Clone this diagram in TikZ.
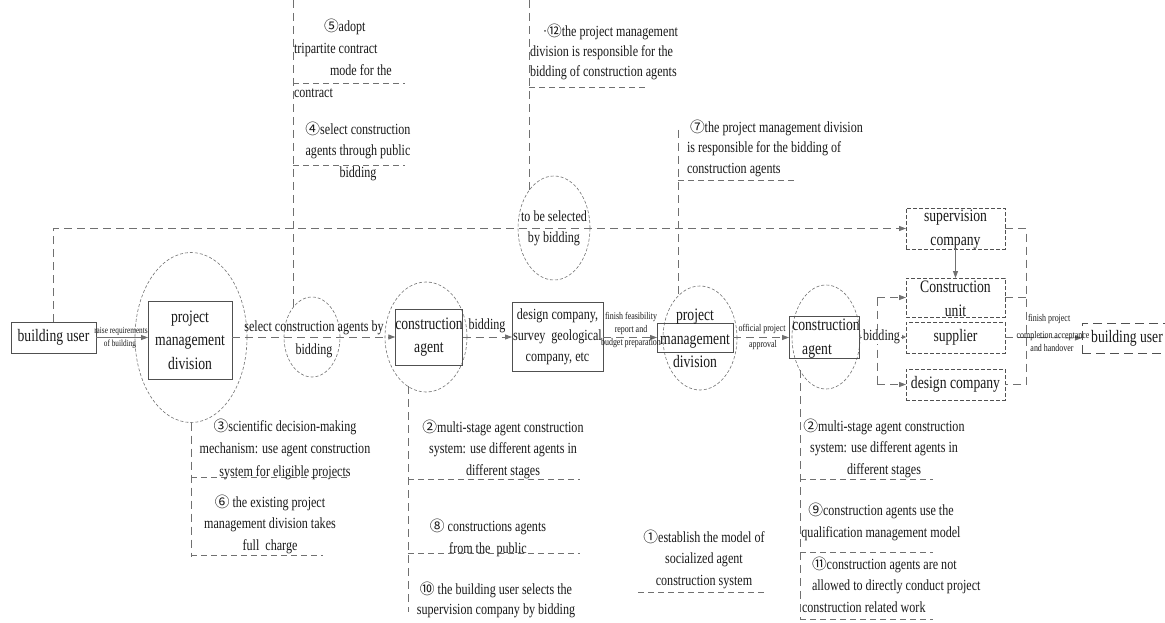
\documentclass[tikz,border=0pt]{standalone}
\usepackage{fontspec}
\setmainfont{Liberation Serif}[FakeStretch=0.78]
\newfontfamily\cnf{Noto Sans CJK SC}
\usetikzlibrary{shapes.geometric,arrows.meta}
\definecolor{linegray}{HTML}{707070}
\definecolor{boxgray}{HTML}{505050}
\definecolor{txt}{HTML}{1A1A1A}
\newcommand\cn[1]{\scalebox{0.95}{\cnf #1}}
\newcommand\fbig{\fontsize{17.5}{23.5}\selectfont}
\newcommand\fmid{\fontsize{15.5}{21.5}\selectfont}
\newcommand\fsml{\fontsize{10.2}{13}\selectfont}
\newcommand\fxs{\fontsize{9.3}{12}\selectfont}
\begin{document}
\begin{tikzpicture}[x=1pt,y=-1pt,
  every node/.style={text=txt, inner sep=0pt, outer sep=0pt},
  sbox/.style={draw=boxgray, line width=0.9pt, rectangle},
  dbox/.style={draw=boxgray, line width=0.8pt, dash pattern=on 4pt off 2pt, rectangle},
  ell/.style={ellipse, draw=linegray, line width=0.6pt, dash pattern=on 3pt off 2pt},
  dl/.style={draw=linegray, line width=0.9pt, dash pattern=on 8pt off 5pt},
  ul/.style={draw=linegray, line width=0.8pt, dash pattern=on 6pt off 4pt},
  sl/.style={draw=linegray, line width=0.9pt},
  tip/.style={-{Triangle[length=7pt,width=5pt]}},
  stip/.style={-{Triangle[length=4pt,width=4pt]}},
  big/.style={font=\fbig, align=center},
  mid/.style={font=\fmid, align=center},
  sml/.style={font=\fsml, align=center},
]
\useasboundingbox (0,0) rectangle (1165,623);
\fill[white] (0,0) rectangle (1165,623);

% ---------- main chain ----------
\node[sbox, minimum width=85, minimum height=31, font=\fbig] (bu1) at (53.5,337.5) {building user};
\node[ell, minimum width=112, minimum height=170] (pmd1e) at (191,337.5) {};
\node[sbox, minimum width=84, minimum height=78, big] (pmd1) at (190,340) {project\\management\\division};
\node[ell, minimum width=56, minimum height=80] (sel) at (312,337) {};
\node[ell, minimum width=82, minimum height=110] (ca1e) at (426,337) {};
\node[sbox, minimum width=66, minimum height=56, big] (ca1) at (429,337) {construction\\agent};
\node[sbox, minimum width=91, minimum height=69, font=\fontsize{15.5}{21}\selectfont, align=center] (des) at (557.5,336.5) {design company,\\survey\ \ geological\\company, etc};
\node[ell, minimum width=72, minimum height=104] (tbs) at (554,228) {};
\node[font=\fontsize{15.5}{21}\selectfont, align=center] (tbst) at (554,228.5) {to be selected\\by bidding};
\node[ell, minimum width=74, minimum height=104] (pmd2e) at (700,338) {};
\node[sbox, minimum width=76, minimum height=29] (pmd2) at (695,337.5) {};
\node[big] (pmd2t) at (695,338.5) {project\\management\\division};
\node[ell, minimum width=68, minimum height=104] (ca2e) at (826,337) {};
\node[sbox, minimum width=70, minimum height=42] (ca2) at (824,337) {};
\node[big] (ca2t) at (826,338.5) {construction\\agent\hspace*{18pt}};

\node[dbox, minimum width=99, minimum height=41] (sup) at (955.5,228.5) {};
\node[big] (supt) at (955.5,229.5) {supervision\\company};
\node[dbox, minimum width=99, minimum height=39] (cu) at (955.5,297.5) {};
\node[big] (cut) at (955.5,299) {Construction\\unit};
\node[dbox, minimum width=99, minimum height=31, font=\fbig] (spl) at (955.5,337.5) {supplier};
\node[dbox, minimum width=99, minimum height=31, font=\fbig] (dc) at (955.5,384.5) {design company};
\node[draw=boxgray, line width=0.8pt, dash pattern=on 9pt off 5pt, minimum width=93, minimum height=30] (bu2) at (1128.5,338) {};
\node[font=\fbig] (bu2t) at (1127,338) {building user};

% ---------- connectors ----------
\draw[sl, tip] (bu1.east) -- (bu1.east -| pmd1.west);
\node[font=\fxs] at (121,331) {raise requirements};
\node[font=\fxs] at (120,344) {of building};

\draw[dl, tip] (ca1.west -| pmd1.east) -- (ca1.west);
\node[mid] at (314,328) {select construction agents by};
\node[mid] at (314,351) {bidding};

\draw[dl, tip] (ca1.east) -- (ca1.east -| des.west);
\node[mid] at (487,326) {bidding};

\draw[dl, tip] (des.east |- pmd2.west) -- (pmd2.west);
\node[font=\fsml, align=center] at (631,330.5) {finish feasibility\\report and\\budget preparation};

\draw[dl, tip] (pmd2.east) -- (pmd2.east -| ca2.west);
\node[sml] at (762,329) {official project};
\node[sml] at (763,345) {approval};

\coordinate (bt) at (877,297.5);
\coordinate (bb) at (877,384.5);
\draw[dl] (bt) -- (bb);
\draw[dl, tip] (bt) -- (cu.west);
\draw[dl, tip] (bb) -- (dc.west);
\node[mid, fill=white, inner xsep=1pt] (bid2) at (881.5,337) {bidding};
\draw[sl] (ca2.east) -- (bid2.west);
\draw[sl, stip] (bid2.east) -- (bid2.east -| spl.west);

\coordinate (rt) at (1026,228.5);
\coordinate (rb) at (1026,384.5);
\draw[dl] (sup.east) -- (rt) -- (rb) -- (dc.east);
\draw[dl] (cu.east) -- (cu.east -| rt);
\draw[dl] (spl.east) -- (spl.east -| rt);
\draw[dl, tip] (spl.east -| rt) -- (bu2.west);
\node[sml, anchor=west] at (1028,319) {finish project};
\node[sml] at (1053,336) {completion acceptance};
\node[sml] at (1052,348) {and handover};

\draw[dl, tip] (bu1.north) |- (sup.west);
\draw[sl, tip] (sup.south) -- (cu.north);

% ---------- annotation lines ----------
\coordinate (v1) at (293,0);
\draw[dl] (v1) -- (v1 |- sel.123);
\coordinate (a5) at (293,83);  \coordinate (a5e) at (405,83);
\draw[ul] (a5) -- (a5e);
\coordinate (a4) at (293,165); \coordinate (a4e) at (405,165);
\draw[ul] (a4) -- (a4e);

\coordinate (v2) at (529,0);
\draw[dl] (v2) -- (v2 |- tbs.124);
\coordinate (a12) at (529,87); \coordinate (a12e) at (648,87);
\draw[ul] (a12) -- (a12e);

\coordinate (v3) at (678,130);
\draw[dl] (v3) -- (v3 |- pmd2e.118);
\coordinate (a7) at (678,180); \coordinate (a7e) at (797,180);
\draw[ul] (a7) -- (a7e);

\coordinate (v4) at (191,557);
\draw[dl] (pmd1e.south) -- (v4);
\coordinate (a3) at (191,477); \coordinate (a3e) at (350,477);
\draw[ul] (a3) -- (a3e);
\coordinate (a6) at (191,555); \coordinate (a6e) at (323,555);
\draw[ul] (a6) -- (a6e);

\coordinate (v5) at (408,612);
\draw[dl] (v5 |- ca1e.250) -- (v5);
\coordinate (a2) at (408,479); \coordinate (a2e) at (580,479);
\draw[ul] (a2) -- (a2e);
\coordinate (a8) at (408,553); \coordinate (a8e) at (580,553);
\draw[ul] (a8) -- (a8e);

\coordinate (a1) at (638,592); \coordinate (a1e) at (765,592);
\draw[ul] (a1) -- (a1e);

\coordinate (v6) at (800,620);
\draw[dl] (v6 |- ca2e.232) -- (v6);
\coordinate (b2) at (800,479); \coordinate (b2e) at (933,479);
\draw[ul] (b2) -- (b2e);
\coordinate (a9) at (800,552); \coordinate (a9e) at (933,552);
\draw[ul] (a9) -- (a9e);
\coordinate (a11) at (800,619); \coordinate (a11e) at (933,619);
\draw[ul] (a11) -- (a11e);

% ---------- annotation texts ----------
\node[font=\fontsize{15.5}{22}\selectfont, align=left, anchor=west] (n5) at (294,58) {\hspace*{30pt}\cn{⑤}adopt\\tripartite contract\\\hspace*{36pt}mode for the\\contract};
\node[mid] (n4) at (358,151) {\cn{④}select construction\\agents through public\\bidding};
\node[font=\fontsize{15.5}{20}\selectfont, align=left, anchor=west] (n12) at (530,52) {\hspace*{13pt}·\cn{⑫}the project management\\division is responsible for the\\bidding of construction agents};
\node[font=\fontsize{15.5}{20.5}\selectfont, align=left, anchor=west] (n7) at (687,148) {\hspace*{3pt}\cn{⑦}the project management division\\is responsible for the bidding of\\construction agents};
\node[font=\fontsize{15.5}{22.5}\selectfont, align=center] (n3) at (285,449) {\cn{③}scientific decision-making\\mechanism: use agent construction\\system for eligible projects};
\node[mid] (n6) at (270,524) {\cn{⑥} the existing project\\management division takes\\full\ \ charge};
\node[mid] (n2a) at (503,449) {\cn{②}multi-stage agent construction\\system: use different agents in\\different stages};
\node[mid] (n8) at (488,538) {\cn{⑧} constructions agents\\from the\ \ public};
\node[font=\fontsize{15.5}{20}\selectfont, align=center] (n10) at (496,600) {\cn{⑩} the building user selects the\\supervision company by bidding};
\node[mid] (n1) at (704,559) {\cn{①}establish the model of\\socialized agent\\construction system};
\node[mid] (n2b) at (884,448) {\cn{②}multi-stage agent construction\\system: use different agents in\\different stages};
\node[mid] (n9) at (881,522) {\cn{⑨}construction agents use the\\qualification management model};
\node[mid, align=left, anchor=west] (n11) at (802,584.5) {\hspace*{10pt}\cn{⑪}construction agents are not\\\hspace*{10pt}allowed to directly conduct project\\construction related work};
\end{tikzpicture}
\end{document}
